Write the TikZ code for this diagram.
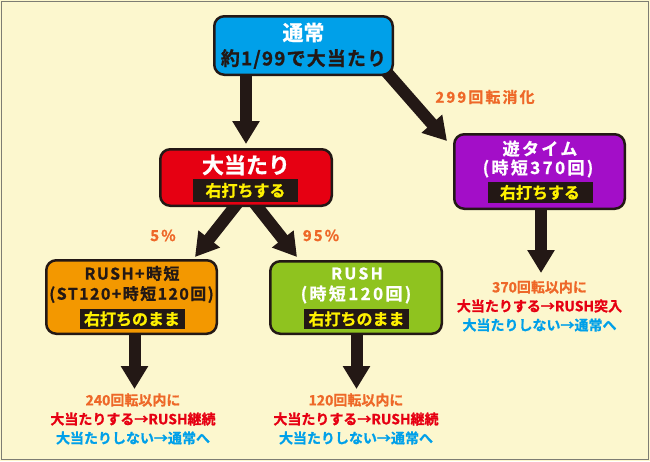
\documentclass[tikz,border=0pt]{standalone}
\usepackage{fontspec}
\setmainfont{Noto Sans CJK JP}[UprightFont=* Bold,FakeBold=1]
\newfontfamily\jpspaced{Noto Sans CJK JP}[UprightFont=* Bold,FakeBold=1,LetterSpace=14]
\newfontfamily\jptight{Noto Sans CJK JP}[UprightFont=* Bold,FakeBold=1,LetterSpace=9]
\newfontfamily\jpslight{Noto Sans CJK JP}[UprightFont=* Bold,FakeBold=1,LetterSpace=6]
\usetikzlibrary{arrows.meta,backgrounds}
\definecolor{cream}{RGB}{252,247,206}
\definecolor{frame}{RGB}{125,125,115}
\definecolor{inkblack}{RGB}{35,24,21}
\definecolor{normalblue}{RGB}{0,160,233}
\definecolor{hitred}{RGB}{230,0,18}
\definecolor{yupurple}{RGB}{163,14,200}
\definecolor{rushjorange}{RGB}{243,152,0}
\definecolor{rushgreen}{RGB}{143,195,31}
\definecolor{stripyellow}{RGB}{255,241,0}
\definecolor{labelorange}{RGB}{238,104,40}
\definecolor{missblue}{RGB}{0,160,233}
\pagecolor{cream}
\tikzset{
  statebox/.style={rectangle, rounded corners=10pt, draw=inkblack, line width=2.5pt},
  boxtext/.style={inner sep=0pt},
  strip/.style={rectangle, fill=inkblack, text=stripyellow, minimum width=105pt,
    minimum height=22pt, inner sep=0pt, font=\fontsize{16}{16}\selectfont},
  bigarrow/.style={draw=inkblack, line width=12pt, -{Triangle[width=26pt,length=23pt]}},
  steplabel/.style={inner sep=0pt, text=labelorange, font=\jpspaced\fontsize{15}{15}\selectfont},
  result/.style={inner sep=0pt, align=center, font=\fontsize{14}{19}\selectfont}
}
\begin{document}
\begin{tikzpicture}[x=1pt,y=-1pt]
	\useasboundingbox (0,0) rectangle (650,461);
	\draw[frame, line width=1.5pt] (1.5,1.5) rectangle (648.5,459.5);
	% boxes
	\node at (303.5,45.5) [statebox, fill=normalblue, minimum width=178.5pt, minimum height=58.5pt] (normal) {};
	\node at (246,177.5) [statebox, fill=hitred, minimum width=171.5pt, minimum height=56.5pt] (hit) {};
	\node at (539.5,171.5) [statebox, fill=yupurple, minimum width=170.5pt, minimum height=74.5pt] (yu) {};
	\node at (131.5,297) [statebox, fill=rushjorange, minimum width=170.5pt, minimum height=73.5pt] (rushj) {};
	\node at (356,297.5) [statebox, fill=rushgreen, minimum width=171.5pt, minimum height=72.5pt] (rush) {};
	% box texts
	\node at (303.5,32.5) [boxtext, text=white, font=\fontsize{21}{21}\selectfont] (normaltitle) {通常};
	\node at (303.5,59) [boxtext, text=inkblack, font=\jpslight\fontsize{19}{19}\selectfont] (normalsub) {約1/99で大当たり};
	\node at (246,165) [boxtext, text=white, font=\fontsize{22}{22}\selectfont] (hittitle) {大当たり};
	\node at (245.5,190.5) [strip, minimum height=23pt] (hitstrip) {右打ちする};
	\node at (540,148.5) [boxtext, text=white, font=\jpspaced\fontsize{17}{17}\selectfont] (yutitle) {遊タイム};
	\node at (538,168.5) [boxtext, text=white, font=\jpspaced\fontsize{17}{17}\selectfont] (yusub) {(時短370回)};
	\node at (540,192.5) [strip, minimum height=21pt] (yustrip) {右打ちする};
	\node at (132,273.5) [boxtext, text=inkblack, font=\jptight\fontsize{16}{16}\selectfont] (rushjtitle) {RUSH+時短};
	\node at (131.5,294.5) [boxtext, text=inkblack, font=\jptight\fontsize{16}{16}\selectfont] (rushjsub) {(ST120+時短120回)};
	\node at (132,319) [strip, minimum height=20pt] (rushjstrip) {右打ちのまま};
	\node at (357,273.5) [boxtext, text=white, font=\jpspaced\fontsize{16}{16}\selectfont] (rushtitle) {RUSH};
	\node at (356,294.5) [boxtext, text=white, font=\jpspaced\fontsize{17}{17}\selectfont] (rushsub) {(時短120回)};
	\node at (356.5,319) [strip, minimum height=20pt] (rushstrip) {右打ちのまま};
	% labels
	\node at (485,97) [steplabel] (spinlabel) {299回転消化};
	\node at (163,235.5) [steplabel] (lowlabel) {5\%};
	\node at (321,235.5) [steplabel] (highlabel) {95\%};
	% results
	\node at (133,419) [result] (rushjresult) {\textcolor{labelorange}{240回転以内に}\\\textcolor{hitred}{大当たりする→RUSH継続}\\\textcolor{missblue}{大当たりしない→通常へ}};
	\node at (356,419) [result] (rushresult) {\textcolor{labelorange}{120回転以内に}\\\textcolor{hitred}{大当たりする→RUSH継続}\\\textcolor{missblue}{大当たりしない→通常へ}};
	\node at (539.5,306) [result] (yuresult) {\textcolor{labelorange}{370回転以内に}\\\textcolor{hitred}{大当たりする→RUSH突入}\\\textcolor{missblue}{大当たりしない→通常へ}};
	\coordinate (rushjtip) at (134.5,389);
	\coordinate (rushtip) at (356.5,389);
	\coordinate (yutip) at (541,273);
	% arrows
	\begin{scope}[on background layer]
	\draw[bigarrow] (hit.north |- normal.center) -- ([yshift=4pt]hit.north);
	\draw[bigarrow] ([shift={(-11pt,8pt)}]normal.south east) -- ([shift={(-6pt,-8pt)}]yu.north west);
	\draw[bigarrow] ([shift={(-6pt,7pt)}]hit.south) -- ([shift={(-23pt,2pt)}]rushj.north east);
	\draw[bigarrow] ([shift={(6pt,7pt)}]hit.south) -- ([shift={(28pt,3pt)}]rush.north west);
	\draw[bigarrow] (rushj.center -| rushjtip) -- (rushjtip);
	\draw[bigarrow] (rush.center -| rushtip) -- (rushtip);
	\draw[bigarrow] (yu.center -| yutip) -- (yutip);
	\end{scope}
\end{tikzpicture}
\end{document}
